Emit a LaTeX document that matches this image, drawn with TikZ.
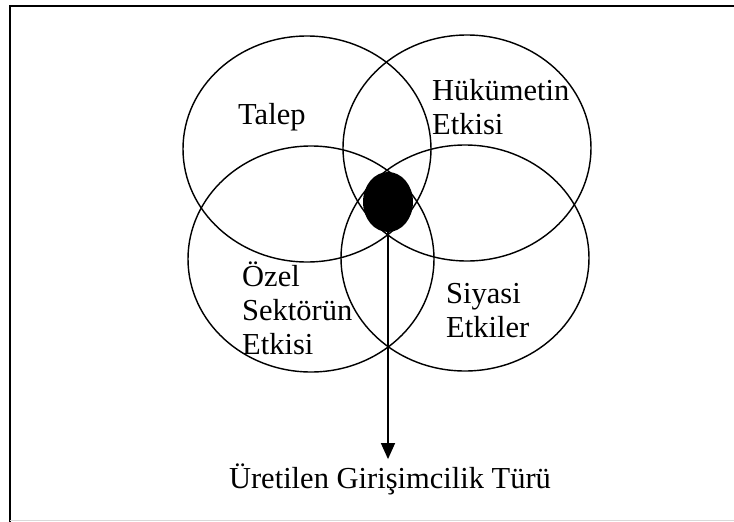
\documentclass[tikz,border=0pt]{standalone}
\usepackage{fontspec}
\setmainfont{Liberation Serif}
\usepackage{tikz}
\usetikzlibrary{arrows.meta,shapes.geometric}

\begin{document}
\begin{tikzpicture}[x=1pt, y=-1pt,
		lbl/.style={anchor=base west, inner sep=0pt, align=left, font=\fontsize{30.5}{34}\selectfont},
		ring/.style={line width=0.5mm}]
			%%%%% START %%%%%
			\useasboundingbox (0, 0) rectangle (734, 522);
			
			\draw[line width=0.7mm] (734, 6) -- (10, 6) -- (10, 522);
			\draw[line width=0.5mm, color=black!15] (10, 520.5) -- (734, 520.5);
			
			\draw[ring] (307, 149) ellipse [x radius=124pt, y radius=113pt];
			\draw[ring] (467, 148) ellipse [x radius=124pt, y radius=113pt];
			\draw[ring] (311, 259) ellipse [x radius=123pt, y radius=113pt];
			\draw[ring] (465, 258) ellipse [x radius=124pt, y radius=113pt];
			
			\node[ellipse, fill=black, inner sep=0pt, minimum width=50pt, minimum height=60pt] (core) at (388, 202) {};
			
			% multi-line labels sit on the baseline of their last line
			\node[lbl] (talep) at (238, 124) {Talep};
			\node[lbl] (hukumet) at (432, 134) {Hükümetin\\Etkisi};
			\node[lbl] (ozel) at (242, 354) {Özel\\Sektörün\\Etkisi};
			\node[lbl] (siyasi) at (446, 337) {Siyasi\\Etkiler};
			
			\node[lbl, anchor=base] (tur) at (390, 488) {Üretilen Girişimcilik Türü};
			
			\draw[line width=0.5mm, -{Triangle[length=16pt, width=14pt]}, shorten >=4pt] (core.south) -- (core.south |- tur.north);
			%%%%% END %%%%%
\end{tikzpicture}
\end{document}
